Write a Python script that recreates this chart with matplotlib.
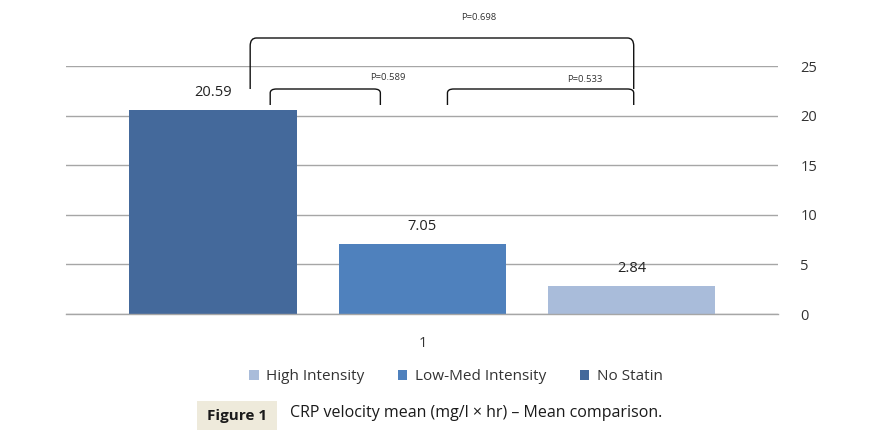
import matplotlib
matplotlib.use("Agg")
import matplotlib.pyplot as plt
from matplotlib.path import Path
from matplotlib.patches import PathPatch, Rectangle

series = ["No Statin", "Low-Med Intensity", "High Intensity"]
values = [20.59, 7.05, 2.84]
colors = ["#44699b", "#4f81bd", "#a9bcda"]
category = "1"
yticks = [0, 5, 10, 15, 20, 25]
pvals = ["P=0.698", "P=0.589", "P=0.533"]

plt.rcParams['font.family'] = ['Open Sans', 'DejaVu Sans']

fig = plt.figure(figsize=(8.75, 4.33), dpi=100)
W, H = 875, 433
ax = fig.add_axes([66 / W, (H - 314) / H, (778 - 66) / W, (314 - 66) / H])

xs = list(range(len(values)))
bars = []
for x, v, c, s in zip(xs, values, colors, series):
    b = ax.bar(x, v, width=0.8, color=c, label=s, zorder=3)
    bars.append(b)
    ax.text(x, v + 1.0, f"{v:.2f}", ha='center', va='bottom', fontsize=10.5, color='#222222')

ax.set_xlim(-0.703, 2.699)
ax.set_ylim(0, 25)
ax.set_yticks(yticks)
ax.yaxis.tick_right()
ax.tick_params(axis='y', length=0, pad=16, labelsize=10.5, labelcolor='#333333')
ax.set_xticks([1])
ax.set_xticklabels([category])
ax.tick_params(axis='x', length=0, pad=16, labelsize=10.5, labelcolor='#333333')
ax.grid(axis='y', color='#a6a6a6', linewidth=1, zorder=0)
ax.axhline(0, color='#a6a6a6', linewidth=1, zorder=4, clip_on=False)
for sp in ax.spines.values():
    sp.set_visible(False)


def px2x(px):
    return (px - 213) / 209.0


def py2y(py):
    return (314 - py) / 9.92


def bracket(x0, x1, ytop, ybot, r=0.3):
    rx = 0.03
    verts = [(x0, ybot), (x0, ytop - r), (x0, ytop), (x0 + rx, ytop),
             (x1 - rx, ytop), (x1, ytop), (x1, ytop - r), (x1, ybot)]
    codes = [Path.MOVETO, Path.LINETO, Path.CURVE3, Path.CURVE3,
             Path.LINETO, Path.CURVE3, Path.CURVE3, Path.LINETO]
    p = PathPatch(Path(verts, codes), fill=False, edgecolor='#111111',
                  linewidth=1.0, clip_on=False, zorder=5)
    ax.add_patch(p)


bracket(px2x(250), px2x(633), py2y(38), py2y(89), r=0.8)
bracket(px2x(270), px2x(380), py2y(89), py2y(105), r=0.4)
bracket(px2x(447), px2x(633), py2y(89), py2y(105), r=0.4)
ax.text(px2x(478), py2y(17), pvals[0], ha='center', va='center', fontsize=6.8, color='#333333', clip_on=False)
ax.text(px2x(387), py2y(78), pvals[1], ha='center', va='center', fontsize=6.8, color='#333333', clip_on=False)
ax.text(px2x(584), py2y(79), pvals[2], ha='center', va='center', fontsize=6.8, color='#333333', clip_on=False)

handles = [bars[2], bars[1], bars[0]]
labels = [series[2], series[1], series[0]]
fig.legend(handles, labels, loc='center', bbox_to_anchor=(456 / W, (H - 377) / H),
           ncol=3, frameon=False, fontsize=11, handlelength=0.6, handleheight=0.6,
           columnspacing=2.2, handletextpad=0.5, labelcolor='#333333')

fig.patches.append(Rectangle((197 / W, (H - 430) / H), 80 / W, 29 / H,
                             transform=fig.transFigure, facecolor='#eeeadb',
                             edgecolor='none'))
fig.text(237 / W, (H - 416) / H, "Figure 1", ha='center', va='center',
         fontsize=11, fontweight='bold', color='#1a1a1a')
fig.text(290 / W, (H - 413) / H, "CRP velocity mean (mg/l \u00d7 hr) \u2013 Mean comparison.",
         ha='left', va='center', fontsize=11.5, color='#1a1a1a')

fig.savefig("out.png", dpi=100)
